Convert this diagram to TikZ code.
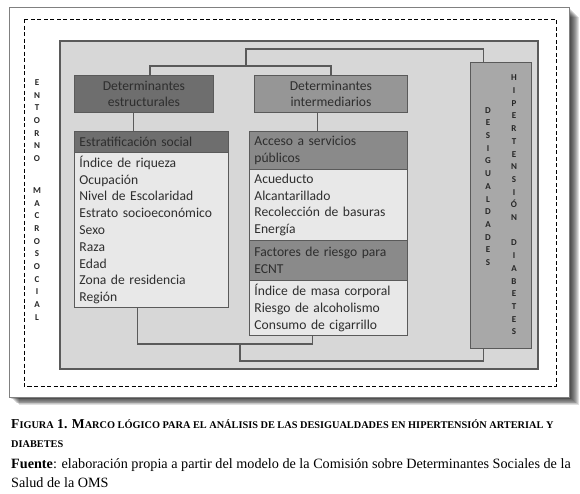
\documentclass[tikz,border=0pt]{standalone}
\usepackage{fontspec}
\setmainfont{Liberation Serif}
\newfontfamily\diagfont{Carlito}
\usetikzlibrary{positioning}
\definecolor{panelgray}{HTML}{D7D7D7}
\definecolor{darkhead}{HTML}{6E6E6E}
\definecolor{midhead}{HTML}{8A8A8A}
\definecolor{lighthead}{HTML}{969696}
\definecolor{listgray}{HTML}{E8E8E8}
\definecolor{sidegray}{HTML}{A8A8A8}
\definecolor{linegray}{HTML}{5A5A5A}
\definecolor{textgray}{HTML}{2E2E2E}
\tikzset{
  box/.style={draw=linegray, line width=0.9pt, inner ysep=0pt, inner xsep=5pt,
    anchor=north west, text=textgray, font=\diagfont\fontsize{13.6}{16.8}\selectfont},
  headbox/.style={box, fill=#1},
  listbox/.style={box, fill=listgray, align=left},
  vletters/.style={inner sep=0pt, align=center, text=black!85,
    font=\diagfont\bfseries\fontsize{9}{12.7}\selectfont},
  conn/.style={draw=linegray, line width=1.2pt}
}
\begin{document}
\begin{tikzpicture}[x=1pt,y=-1pt]
\useasboundingbox (0,0) rectangle (580,493);
% frame with shadow
\foreach \d in {1,...,10}
  \fill[black, opacity=0.12] (9+\d,7+\d) rectangle (569+\d,397+0.8*\d);
\draw[fill=white, draw=gray, line width=0.6pt] (9,7) rectangle (569,397);
\draw[dashed, line width=0.9pt, dash pattern=on 4pt off 2.5pt] (24,19) rectangle (556,386);
% panel
\draw[fill=panelgray, draw=linegray, line width=1.1pt] (60,41) rectangle (538,369);
\node[vletters] (entorno) at (37,200)
  {E\\N\\T\\O\\R\\N\\O\\[19pt]M\\A\\C\\R\\O\\S\\O\\C\\I\\A\\L};
% determinantes
\node[headbox=darkhead, align=center, minimum width=139pt, minimum height=37pt, text width=129pt]
  (estr) at (74,75) {Determinantes\\estructurales};
\node[headbox=lighthead, align=center, minimum width=153pt, minimum height=37pt, text width=143pt]
  (inter) at (254,75) {Determinantes\\intermediarios};
% estratificacion
\node[headbox=darkhead, align=left, minimum width=154pt, minimum height=21pt, text width=144pt]
  (estrh) at (74,131) {Estratificación social};
\node[listbox, minimum width=154pt, minimum height=155pt, text width=144pt]
  (estrl) at (74,152) {Índice de riqueza\\Ocupación\\Nivel de Escolaridad\\Estrato socioeconómico\\Sexo\\Raza\\Edad\\Zona de residencia\\Región};
% acceso y factores
\node[headbox=midhead, align=left, minimum width=158pt, minimum height=38pt, text width=148pt]
  (acch) at (249,131) {Acceso a servicios\\públicos};
\node[listbox, minimum width=158pt, minimum height=71pt, text width=148pt]
  (accl) at (249,169) {Acueducto\\Alcantarillado\\Recolección de basuras\\Energía};
\node[headbox=midhead, align=left, minimum width=158pt, minimum height=40pt, text width=148pt]
  (riskh) at (249,240) {Factores de riesgo para\\ECNT};
\node[listbox, minimum width=158pt, minimum height=55pt, text width=148pt]
  (riskl) at (249,280) {Índice de masa corporal\\Riesgo de alcoholismo\\Consumo de cigarrillo};
% desigualdades
\node[headbox=sidegray, minimum width=61pt, minimum height=286pt] (desig) at (470,62) {};
\node[vletters] (desigt) at (488,186.5) {D\\E\\S\\I\\G\\U\\A\\L\\D\\A\\D\\E\\S};
\node[vletters] (hipdia) at (514,205) {H\\I\\P\\E\\R\\T\\E\\N\\S\\I\\Ó\\N\\[12.7pt]D\\I\\A\\B\\E\\T\\E\\S};
% conectores
\coordinate (jtop) at (246,66);
\coordinate (jbot) at (240,343);
\draw[conn] ([xshift=6pt]estr.north) -- ++(0,-9) -| (inter.north);
\draw[conn] (jtop) -- ++(0,-17) -| ([xshift=-17.5pt]desig.north);
\draw[conn] ([xshift=-14pt]estrl.south) -- ++(0,36) -| ([xshift=-16pt]riskl.south);
\draw[conn] (jbot) -- ++(0,18) -| ([xshift=-17.5pt]desig.south);
\draw[conn] ([xshift=-10.5pt]estr.south) -- ([xshift=-18pt]estrh.north);
\draw[conn] ([xshift=-13.5pt]inter.south) -- ([xshift=-11pt]acch.north);
% caption
\node[anchor=base west, inner sep=0pt, font=\bfseries\fontsize{13.6}{16}\selectfont] (cap1) at (11,428)
  {F{\fontsize{10.3}{12}\selectfont IGURA} 1. M{\fontsize{10.3}{12}\selectfont ARCO LÓGICO PARA EL ANÁLISIS DE LAS DESIGUALDADES EN HIPERTENSIÓN ARTERIAL Y}};
\node[anchor=base west, inner sep=0pt, font=\bfseries\fontsize{10.3}{12}\selectfont] (cap2) at (11,447) {DIABETES};
\node[anchor=base west, inner sep=0pt, font=\fontsize{14.2}{17}\selectfont] (src1) at (11,468)
  {\textbf{Fuente}: elaboración propia a partir del modelo de la Comisión sobre Determinantes Sociales de la};
\node[anchor=base west, inner sep=0pt, font=\fontsize{14.2}{17}\selectfont] (src2) at (11,487) {Salud de la OMS};
\end{tikzpicture}
\end{document}
